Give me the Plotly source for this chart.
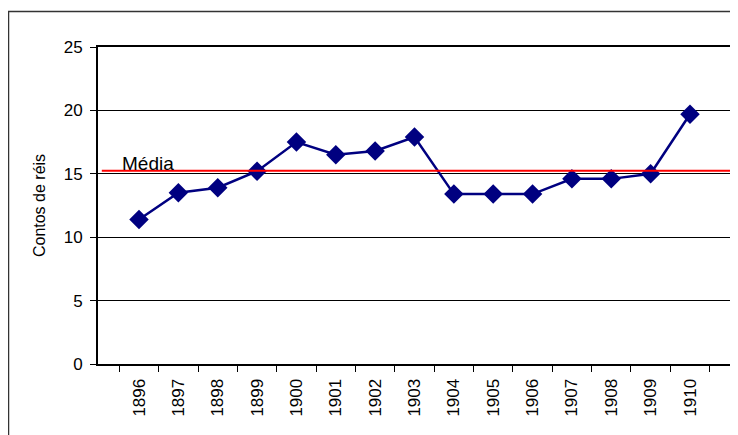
import plotly.graph_objects as go

years = ["1896", "1897", "1898", "1899", "1900", "1901", "1902", "1903",
         "1904", "1905", "1906", "1907", "1908", "1909", "1910"]
values = [11.4, 13.5, 13.9, 15.2, 17.5, 16.5, 16.8, 17.9,
          13.4, 13.4, 13.4, 14.6, 14.6, 15.0, 19.7]
mean_value = 15.25
y_ticks = [0, 5, 10, 15, 20, 25]
y_title = "Contos de réis"
mean_label = "Média"

FONT = "Arial, 'Liberation Sans', sans-serif"

# page body has an 8px margin; figure geometry compensates for it
L, T, PW, PH = 90, 39, 633, 317

fig = go.Figure()
fig.add_trace(go.Scatter(
    x=years, y=values, mode="lines+markers",
    line=dict(color="#000080", width=2.5),
    marker=dict(symbol="diamond", size=15, color="#000080"),
    showlegend=False, cliponaxis=False,
))

fig.add_shape(type="line", xref="x domain", yref="y",
              x0=0.006, x1=1, y0=mean_value, y1=mean_value,
              line=dict(color="#ff0000", width=2))

fig.add_annotation(text=mean_label, xref="x domain", yref="y",
                   x=0.035, y=mean_value, xanchor="left", yanchor="bottom",
                   yshift=-5, showarrow=False,
                   font=dict(family=FONT, size=19, color="black"))

# outer chart border (extends beyond the visible window on right/bottom)
fig.add_shape(type="rect", xref="paper", yref="paper",
              x0=(0.5 - L) / PW, x1=(760 - L) / PW,
              y0=(T + PH - 460) / PH, y1=(T + PH - 3.5) / PH,
              line=dict(color="#333333", width=1.5), layer="below")

fig.update_layout(
    width=730, height=427,
    margin=dict(l=L, r=730 - L - PW, t=T, b=427 - T - PH, autoexpand=False),
    paper_bgcolor="white", plot_bgcolor="white",
    font=dict(family=FONT, size=16, color="black"),
    showlegend=False,
)

fig.update_xaxes(
    type="category", categoryorder="array", categoryarray=years,
    tickmode="array", tickvals=years, ticktext=years,
    tickson="boundaries", ticks="outside", ticklen=6, tickwidth=1, tickcolor="black",
    tickangle=-90, tickfont=dict(size=17), ticklabelstandoff=6,
    showline=True, linecolor="black", linewidth=2, mirror=True,
    showgrid=False, zeroline=False, automargin=False,
)
fig.update_yaxes(
    range=[0, 25], tickmode="array", tickvals=y_ticks,
    ticks="outside", ticklen=6, tickwidth=1, tickcolor="black",
    tickfont=dict(size=17), ticklabelstandoff=4,
    showline=True, linecolor="black", linewidth=2, mirror=True,
    showgrid=True, gridcolor="black", gridwidth=1, zeroline=False,
    automargin=False,
    title=dict(text=y_title, font=dict(size=16), standoff=14),
)

fig.write_html("out.html")
